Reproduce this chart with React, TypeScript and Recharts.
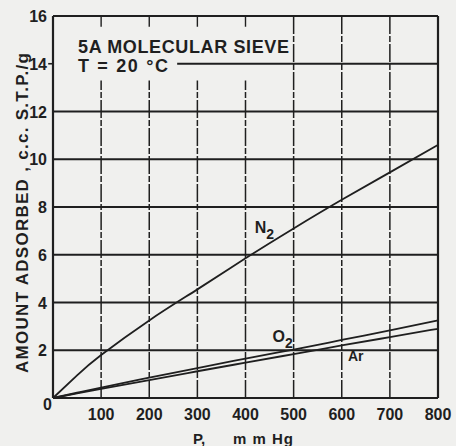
import React from "react";
import { LineChart, Line, XAxis, YAxis, ReferenceLine, ReferenceDot } from "recharts";

// Pressure, mm Hg
const pressure = [0, 50, 100, 200, 300, 400, 500, 600, 700, 800];
// Amount adsorbed, c.c. S.T.P./g
const n2 = [0, 0.95, 1.8, 3.25, 4.55, 5.85, 7.1, 8.3, 9.45, 10.6];
const o2 = [0, 0.22, 0.43, 0.85, 1.25, 1.65, 2.03, 2.43, 2.83, 3.25];
const ar = [0, 0.19, 0.38, 0.75, 1.12, 1.48, 1.84, 2.2, 2.55, 2.9];

const xTicks = [100, 200, 300, 400, 500, 600, 700, 800];
const yTicks = [0, 2, 4, 6, 8, 10, 12, 14, 16];
const hGrid = [2, 4, 6, 8, 10, 12];
const vGridLow = [100, 200, 300, 400];
const vGridFull = [500, 600, 700];

const data = pressure.map((p, i) => ({ p, n2: n2[i], o2: o2[i], ar: ar[i] }));

const INK = "#1f1f1f";
const BG = "#f0f0ee";
const FONT = "'Liberation Sans', Arial, sans-serif";

const XTick = (props: any) => {
  const { x, y, payload } = props;
  return (
    <text x={x} y={y + 22} textAnchor="middle" fontFamily={FONT} fontWeight="bold" fontSize={16} fill={INK}>
      {payload.value}
    </text>
  );
};

const YTick = (props: any) => {
  const { x, y, payload } = props;
  const isZero = payload.value === 0;
  return (
    <text
      x={isZero ? x - 1 : x - 6}
      y={isZero ? y + 12 : y + 6}
      textAnchor="end"
      fontFamily={FONT}
      fontWeight="bold"
      fontSize={16}
      fill={INK}
    >
      {payload.value}
    </text>
  );
};

const gasLabel = (main: string, sub: string, size: number) => (props: any) => {
  const vb = props.viewBox || {};
  const x = vb.x ?? vb.cx ?? 0;
  const y = vb.y ?? vb.cy ?? 0;
  return (
    <text x={x} y={y} fontFamily={FONT} fontWeight="bold" fontSize={size} fill={INK}>
      {main}
      {sub ? (
        <tspan dy={6} fontSize={size - 2}>
          {sub}
        </tspan>
      ) : null}
    </text>
  );
};

export default function App() {
  return (
    <div style={{ position: "absolute", left: 0, top: 0, width: 456, height: 446, background: BG }}>
      <LineChart width={456} height={446} data={data} margin={{ top: 16, right: 18, bottom: 18, left: 0 }}>
        <XAxis
          dataKey="p"
          type="number"
          domain={[0, 800]}
          ticks={xTicks}
          axisLine={false}
          tickLine={false}
          tickSize={0}
          tickMargin={0}
          height={30}
          tick={<XTick />}
          interval={0}
        />
        <YAxis
          type="number"
          domain={[0, 16]}
          ticks={yTicks}
          axisLine={false}
          tickLine={false}
          tickSize={0}
          tickMargin={0}
          width={53}
          tick={<YTick />}
          interval={0}
        />
        {hGrid.map((v) => (
          <ReferenceLine key={"h" + v} y={v} stroke={INK} strokeWidth={2} />
        ))}
        <ReferenceLine segment={[{ x: 258, y: 14 }, { x: 800, y: 14 }]} stroke={INK} strokeWidth={2} />
        <ReferenceLine segment={[{ x: -10, y: 14 }, { x: 0, y: 14 }]} stroke={INK} strokeWidth={1.6} ifOverflow="visible" />
        {vGridLow.map((v) => (
          <ReferenceLine key={"vl" + v} segment={[{ x: v, y: 0 }, { x: v, y: 13.3 }]} stroke={INK} strokeWidth={1.5} strokeDasharray="18 2 6 2" />
        ))}
        {vGridLow.map((v) => (
          <ReferenceLine key={"vt" + v} segment={[{ x: v, y: 15.55 }, { x: v, y: 16 }]} stroke={INK} strokeWidth={1.4} />
        ))}
        {vGridFull.map((v) => (
          <ReferenceLine key={"vf" + v} x={v} stroke={INK} strokeWidth={1.5} strokeDasharray="18 2 6 2" />
        ))}
        <ReferenceLine x={0} stroke={INK} strokeWidth={2.2} />
        <ReferenceLine x={800} stroke={INK} strokeWidth={2.2} />
        <ReferenceLine y={0} stroke={INK} strokeWidth={2.2} />
        <ReferenceLine y={16} stroke={INK} strokeWidth={2.2} />
        <Line dataKey="n2" type="natural" stroke={INK} strokeWidth={1.8} dot={false} isAnimationActive={false} />
        <Line dataKey="o2" type="natural" stroke={INK} strokeWidth={1.8} dot={false} isAnimationActive={false} />
        <Line dataKey="ar" type="natural" stroke={INK} strokeWidth={1.8} dot={false} isAnimationActive={false} />
        <ReferenceDot x={419} y={6.9} r={0} stroke="none" fill="none" label={gasLabel("N", "2", 16)} />
        <ReferenceDot x={456} y={2.35} r={0} stroke="none" fill="none" label={gasLabel("O", "2", 16)} />
        <ReferenceDot x={613} y={1.55} r={0} stroke="none" fill="none" label={gasLabel("Ar", "", 14)} />
      </LineChart>
      <svg width={456} height={446} style={{ position: "absolute", left: 0, top: 0, pointerEvents: "none" }}>
        <text x={78} y={53} fontFamily={FONT} fontWeight="bold" fontSize={18} fill={INK} textLength={211} lengthAdjust="spacing">
          5A MOLECULAR SIEVE
        </text>
        <text x={78} y={72} fontFamily={FONT} fontWeight="bold" fontSize={18} fill={INK} textLength={90} lengthAdjust="spacing">
          T = 20 °C
        </text>
        <text
          x={0}
          y={0}
          transform="translate(28,213) rotate(-90)"
          textAnchor="middle"
          fontFamily={FONT}
          fontWeight="bold"
          fontSize={17}
          fill={INK}
          textLength={320}
          lengthAdjust="spacing"
        >
          AMOUNT ADSORBED , c.c. S.T.P./g
        </text>
        <text x={193} y={444} fontFamily={FONT} fontWeight="bold" fontSize={15} fill={INK}>
          P,
        </text>
        <text x={233} y={444} fontFamily={FONT} fontWeight="bold" fontSize={15} fill={INK} textLength={60} lengthAdjust="spacing">
          m m Hg
        </text>
      </svg>
    </div>
  );
}
